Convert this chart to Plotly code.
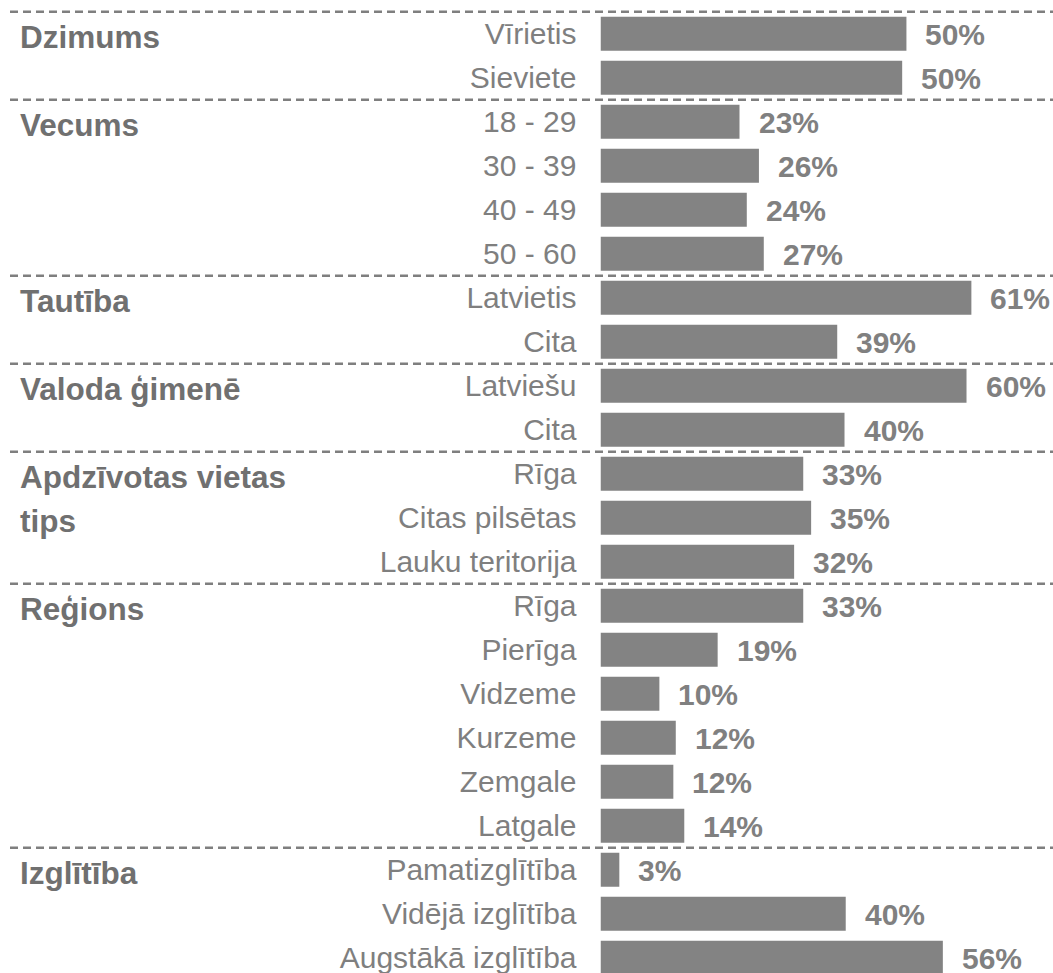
import plotly.graph_objects as go

# ---- data ----
groups = ["Dzimums", "Vecums", "Tautība", "Valoda ģimenē", "Apdzīvotas vietas\ntips", "Reģions", "Izglītība"]
group_sizes = [2, 4, 2, 2, 3, 6, 3]
categories = ["Vīrietis", "Sieviete",
              "18 - 29", "30 - 39", "40 - 49", "50 - 60",
              "Latvietis", "Cita",
              "Latviešu", "Cita",
              "Rīga", "Citas pilsētas", "Lauku teritorija",
              "Rīga", "Pierīga", "Vidzeme", "Kurzeme", "Zemgale", "Latgale",
              "Pamatizglītība", "Vidējā izglītība", "Augstākā izglītība"]
values = [50.4, 49.7,
          22.9, 26.1, 24.1, 26.9,
          61.1, 39.0,
          60.3, 40.2,
          33.4, 34.7, 31.9,
          33.4, 19.3, 9.7, 12.4, 12.0, 13.8,
          3.1, 40.4, 56.4]
value_labels = [f"{round(v)}%" for v in values]

# ---- layout constants ----
W, H = 1053, 973
X0_PX = 600.5        # pixel where 0% sits
PX_PER_UNIT = 6.07   # pixels per percentage point
ROW_PX = 44.0
FIRST_ROW_PX = 33.7
FONT = "Liberation Sans, Arial, sans-serif"

Y_TOP = -FIRST_ROW_PX / ROW_PX
Y_BOTTOM = (H - FIRST_ROW_PX) / ROW_PX

rows = list(range(len(categories)))

fig = go.Figure(go.Bar(
    x=values, y=rows, orientation="h", width=0.773,
    marker=dict(color="#838383", line=dict(width=0)),
    hoverinfo="skip",
))

annotations = []
for i, (v, t) in enumerate(zip(values, value_labels)):
    annotations.append(dict(
        x=v, y=i, xref="x", yref="y", xanchor="left", yanchor="middle",
        xshift=17, yshift=-1, showarrow=False,
        text=f"<b>{t}</b>", font=dict(family=FONT, size=30, color="#808080"),
    ))

start = 0
shapes = []
boundaries = [-0.5]
for g, n in zip(groups, group_sizes):
    for j, line in enumerate(g.split("\n")):
        annotations.append(dict(
            x=18 / W, y=start + j, xref="paper", yref="y",
            xanchor="left", yanchor="middle", yshift=-3, showarrow=False,
            text=f"<b>{line}</b>", font=dict(family=FONT, size=31.5, color="#707070"),
        ))
    start += n
    if start < len(categories):
        boundaries.append(start - 0.5)

for b in boundaries:
    # convert the row boundary to paper coordinates through the y scale
    yp = 1 - (b - Y_TOP) / (Y_BOTTOM - Y_TOP)
    shapes.append(dict(
        type="line", xref="paper", yref="paper", x0=10 / W, x1=1, y0=yp, y1=yp,
        line=dict(color="#7f7f7f", width=2.5, dash="8px,5px"), layer="above",
    ))

fig.update_layout(
    width=W, height=H,
    margin=dict(l=0, r=0, t=0, b=0),
    paper_bgcolor="white", plot_bgcolor="white",
    showlegend=False,
    xaxis=dict(domain=[X0_PX / W, 1], range=[0, (W - X0_PX) / PX_PER_UNIT],
               visible=False, fixedrange=True),
    yaxis=dict(range=[Y_BOTTOM, Y_TOP],
               tickvals=rows, ticktext=categories,
               showgrid=False, zeroline=False, showline=False, ticks="",
               ticklabelstandoff=23, ticklabeloverflow="allow", fixedrange=True,
               tickfont=dict(family=FONT, size=30, color="#7f7f7f")),
    annotations=annotations,
    shapes=shapes,
)

fig.write_html(
    "out.html",
    config={"displayModeBar": False},
    post_script="document.body.style.margin='0';document.body.style.overflow='hidden';",
)
